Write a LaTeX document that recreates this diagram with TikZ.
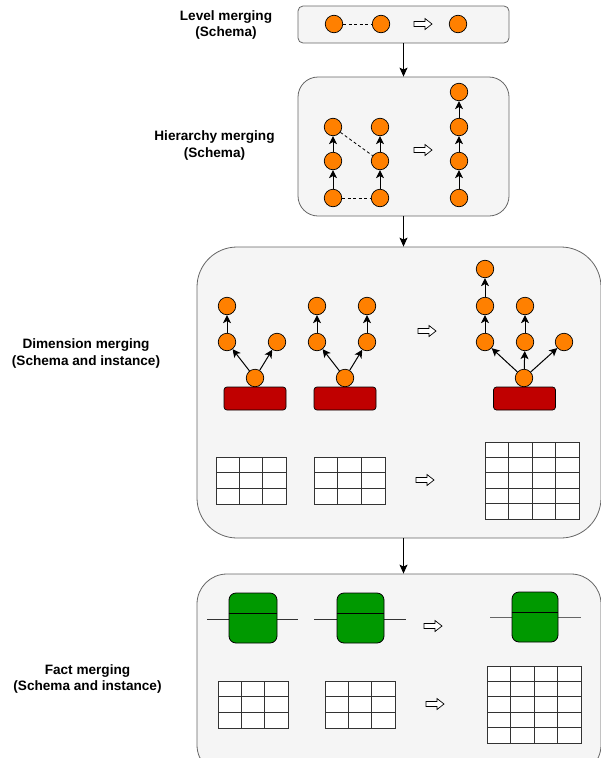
\documentclass[tikz,border=0pt]{standalone}
\usepackage{fontspec}
\setmainfont{Liberation Sans}
\usetikzlibrary{arrows.meta}
\definecolor{panelfill}{HTML}{F5F5F5}
\definecolor{panelline}{HTML}{666666}
\definecolor{attrorange}{HTML}{FF8000}
\definecolor{dimred}{HTML}{C00000}
\definecolor{factgreen}{HTML}{009900}
\definecolor{gridline}{HTML}{333333}
\tikzset{
  panel/.style={draw=panelline, fill=panelfill, line width=0.8pt, inner sep=0pt},
  lvl/.style={circle, draw=black, fill=attrorange, minimum size=17.5pt, inner sep=0pt, line width=0.7pt},
  rollup/.style={-{Stealth[length=8pt,width=8pt,inset=2pt]}, line width=1pt},
  flow/.style={-{Stealth[length=9pt,width=8pt,inset=2pt]}, line width=1pt},
  dashlink/.style={line width=0.8pt, dash pattern=on 3pt off 2.5pt},
  dimbox/.style={draw=black, fill=dimred, rounded corners=3pt, line width=0.7pt, minimum width=62pt, minimum height=23pt, inner sep=0pt},
  factbox/.style={draw=black, fill=factgreen, rounded corners=7pt, line width=0.8pt, minimum height=50pt, inner sep=0pt},
  factline/.style={line width=0.9pt, draw=black!80},
  tableline/.style={draw=gridline, line width=1pt},
  caption/.style={font=\fontsize{13.6}{16.5}\selectfont\bfseries, align=center},
}
% hollow block arrow centred at (#1,#2)
\newcommand\mergearrow[2]{%
  \draw[fill=white, line width=0.7pt] (#1-9,#2-2.5) -- (#1+2,#2-2.5) -- (#1+2,#2-5.5)
    -- (#1+9,#2) -- (#1+2,#2+5.5) -- (#1+2,#2+2.5) -- (#1-9,#2+2.5) -- cycle;}
% table grid: x0 y0 x1 y1 cols rows
\newcommand\datatable[6]{%
  \draw[tableline, fill=white] (#1,#2) rectangle (#3,#4);
  \pgfmathtruncatemacro\ncols{#5-1}%
  \pgfmathtruncatemacro\nrows{#6-1}%
  \foreach \k in {1,...,\ncols}{\draw[tableline] ({#1+\k*(#3-#1)/#5},#2) -- ({#1+\k*(#3-#1)/#5},#4);}
  \foreach \k in {1,...,\nrows}{\draw[tableline] (#1,{#2+\k*(#4-#2)/#6}) -- (#3,{#2+\k*(#4-#2)/#6});}
}
\begin{document}
\begin{tikzpicture}[x=1pt,y=-1pt]
\useasboundingbox (0,0) rectangle (601,758);
\clip (0,0) rectangle (601,758);

% panels
\node[panel, rounded corners=5pt, minimum width=211pt, minimum height=37pt] (p1) at (403.5,24.5) {};
\node[panel, rounded corners=20pt, minimum width=211pt, minimum height=139pt] (p2) at (403.5,146.5) {};
\node[panel, rounded corners=40pt, minimum width=404pt, minimum height=291pt] (p3) at (399,392.5) {};
\node[panel, rounded corners=30pt, minimum width=404pt, minimum height=201pt] (p4) at (399,674.5) {};

\draw[flow] (p1.south) -- (p1.south |- p2.north);
\draw[flow] (p2.south) -- (p2.south |- p3.north);
\draw[flow] (p2.south |- p3.south) -- (p2.south |- p4.north);

% captions
\node[caption] (c1) at (226,25) {Level merging\\(Schema)};
\node[caption] (c2) at (214.5,145.5) {Hierarchy merging\\(Schema)};
\node[caption] (c3) at (86,353.5) {Dimension merging\\(Schema and instance)};
\node[caption] (c4) at (87.5,679) {Fact merging\\(Schema and instance)};

% level merging
\node[lvl] (la) at (334,24) {};
\node[lvl] (lb) at (381,24) {};
\node[lvl] (lc) at (458,24) {};
\draw[dashlink] (la) -- (lb);
\mergearrow{423}{24}

% hierarchy merging
\node[lvl] (ha1) at (333,198) {};
\node[lvl] (ha2) at (333,161) {};
\node[lvl] (ha3) at (333,127) {};
\node[lvl] (hb1) at (380,198) {};
\node[lvl] (hb2) at (380,161) {};
\node[lvl] (hb3) at (380,127) {};
\node[lvl] (hc1) at (459,198) {};
\node[lvl] (hc2) at (459,161) {};
\node[lvl] (hc3) at (459,127) {};
\node[lvl] (hc4) at (459,92) {};
\draw[rollup] (ha1) -- (ha2);
\draw[rollup] (ha2) -- (ha3);
\draw[rollup] (hb1) -- (hb2);
\draw[rollup] (hb2) -- (hb3);
\draw[rollup] (hc1) -- (hc2);
\draw[rollup] (hc2) -- (hc3);
\draw[rollup] (hc3) -- (hc4);
\draw[dashlink] (ha3) -- (hb2);
\draw[dashlink] (ha1) -- (hb1);
\mergearrow{423}{150}

% dimension merging: schema
\node[dimbox] (d1) at (255,398.5) {};
\node[lvl] (d1b) at (255,378) {};
\node[lvl] (d1l) at (227,342) {};
\node[lvl] (d1t) at (227,306) {};
\node[lvl] (d1r) at (277,342) {};
\draw[rollup] (d1b) -- (d1l);
\draw[rollup] (d1b) -- (d1r);
\draw[rollup] (d1l) -- (d1t);

\node[dimbox] (d2) at (345,398.5) {};
\node[lvl] (d2b) at (345,378) {};
\node[lvl] (d2l) at (317,342) {};
\node[lvl] (d2lt) at (317,306) {};
\node[lvl] (d2r) at (367,342) {};
\node[lvl] (d2rt) at (367,306) {};
\draw[rollup] (d2b) -- (d2l);
\draw[rollup] (d2b) -- (d2r);
\draw[rollup] (d2l) -- (d2lt);
\draw[rollup] (d2r) -- (d2rt);

\mergearrow{427}{331}

\node[dimbox] (d3) at (524.5,398.5) {};
\node[lvl] (d3b) at (524,378) {};
\node[lvl] (d3l) at (485,342) {};
\node[lvl] (d3l2) at (485,306) {};
\node[lvl] (d3l3) at (485,269) {};
\node[lvl] (d3m) at (525,342) {};
\node[lvl] (d3m2) at (525,306) {};
\node[lvl] (d3r) at (564,342) {};
\draw[rollup] (d3b) -- (d3l);
\draw[rollup] (d3b) -- (d3m);
\draw[rollup] (d3b) -- (d3r);
\draw[rollup] (d3l) -- (d3l2);
\draw[rollup] (d3l2) -- (d3l3);
\draw[rollup] (d3m) -- (d3m2);

% dimension merging: instances
\datatable{216}{457}{286}{504}{3}{3}
\datatable{314}{457}{385}{504}{3}{3}
\mergearrow{425}{480}
\datatable{485}{442}{579}{519}{4}{5}

% fact merging: schema
\coordinate (f1w) at (207,619);
\coordinate (f1e) at (298,619);
\draw[factline] (f1w) -- (f1e);
\node[factbox, minimum width=48pt] (f1) at (253,618) {};
\draw[line width=0.9pt] (f1.west |- 0,613) -- (f1.east |- 0,613);

\coordinate (f2w) at (314,619);
\coordinate (f2e) at (406,619);
\draw[factline] (f2w) -- (f2e);
\node[factbox, minimum width=47pt] (f2) at (360.5,618) {};
\draw[line width=0.9pt] (f2.west |- 0,613) -- (f2.east |- 0,613);

\mergearrow{433}{626}

\coordinate (f3w) at (490,617);
\coordinate (f3e) at (581,617);
\draw[factline, draw=black!60] (f3w) -- (f3e);
\node[factbox, minimum width=46pt] (f3) at (535,617) {};
\draw[line width=0.9pt] (f3.west |- 0,612) -- (f3.east |- 0,612);

% fact merging: instances
\datatable{218}{681}{288}{728}{3}{3}
\datatable{325}{681}{395}{728}{3}{3}
\mergearrow{435}{704}
\datatable{487}{666}{581}{743}{4}{5}
\end{tikzpicture}
\end{document}
